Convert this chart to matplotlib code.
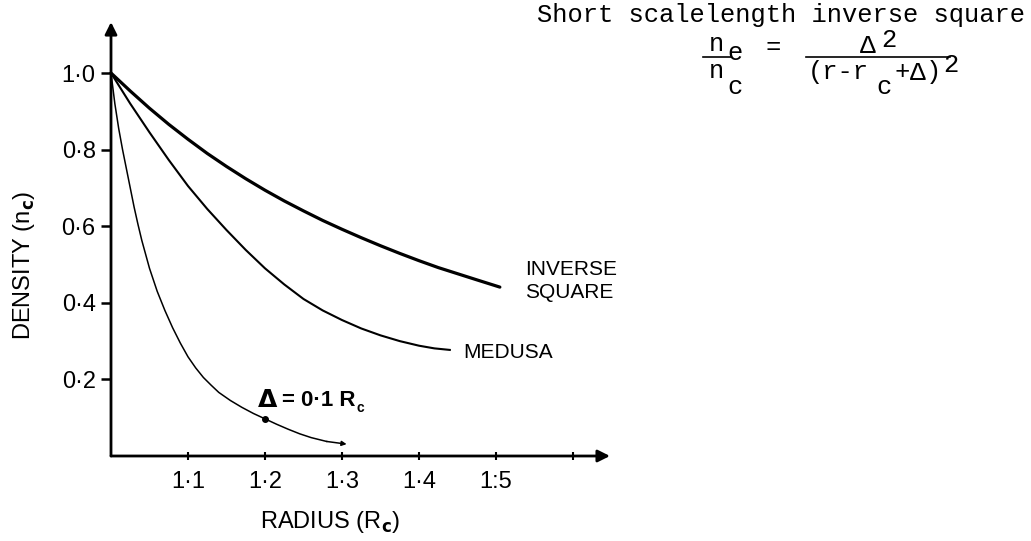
import matplotlib
matplotlib.use("Agg")
import matplotlib.pyplot as plt

# Density profiles near the critical surface (radius in units of R_c, density in n_c)
r_inverse_square = [1.0, 1.025, 1.05, 1.075, 1.1, 1.125, 1.15, 1.175, 1.2, 1.225,
                    1.25, 1.275, 1.3, 1.325, 1.35, 1.375, 1.4, 1.425, 1.45, 1.475, 1.505]
n_inverse_square = [1.0, 0.953, 0.908, 0.866, 0.827, 0.790, 0.756, 0.724, 0.694, 0.666,
                    0.640, 0.615, 0.592, 0.570, 0.549, 0.529, 0.510, 0.492, 0.476, 0.460, 0.441]

r_medusa = [1.0, 1.025, 1.05, 1.075, 1.1, 1.125, 1.15, 1.175, 1.2, 1.225,
            1.25, 1.275, 1.3, 1.325, 1.35, 1.375, 1.4, 1.42, 1.44]
n_medusa = [1.0, 0.92, 0.845, 0.773, 0.705, 0.645, 0.59, 0.538, 0.49, 0.448,
            0.41, 0.38, 0.355, 0.333, 0.315, 0.30, 0.288, 0.281, 0.277]

r_short = [1.0, 1.005, 1.01, 1.015, 1.02, 1.025, 1.03, 1.035, 1.04, 1.05,
           1.06, 1.07, 1.08, 1.09, 1.1, 1.11, 1.12, 1.13, 1.14, 1.155,
           1.17, 1.185, 1.2, 1.215, 1.23, 1.245, 1.26, 1.28, 1.306]
n_short = [1.0, 0.92, 0.855, 0.80, 0.75, 0.70, 0.65, 0.605, 0.563, 0.49,
           0.43, 0.38, 0.335, 0.295, 0.259, 0.23, 0.205, 0.185, 0.166, 0.145,
           0.127, 0.111, 0.097, 0.083, 0.07, 0.058, 0.048, 0.038, 0.031]
marked_point = 22  # dot drawn on the short-scalelength curve at r = 1.2

x_ticks = [1.1, 1.2, 1.3, 1.4, 1.5, 1.6]
x_tick_labels = ["1·1", "1·2", "1·3", "1·4", "1:5", ""]
y_ticks = [0.2, 0.4, 0.6, 0.8, 1.0]
y_tick_labels = ["0·2", "0·4", "0·6", "0·8", "1·0"]

W, H = 1031, 541
fig = plt.figure(figsize=(W / 100, H / 100), dpi=100)
fig.patch.set_facecolor("white")

SANS = ["Liberation Sans", "DejaVu Sans"]
MONO = ["Liberation Mono", "DejaVu Sans Mono"]


def fx(px):
    return px / W


def fy(py):
    return 1 - py / H


# axes box: x 1.0..1.65, y 0..1.14
ax = fig.add_axes([fx(111), 85 / H, 500.5 / W, 436.6 / H])
ax.set_xlim(1.0, 1.65)
ax.set_ylim(0, 1.14)
for s in ax.spines.values():
    s.set_visible(False)
ax.patch.set_alpha(0)

# axes drawn as arrows
ax.annotate("", xy=(1.648, 0), xytext=(1.0, 0),
            arrowprops=dict(arrowstyle="-|>", lw=2.0, color="black",
                            mutation_scale=18, shrinkA=0, shrinkB=0),
            annotation_clip=False)
ax.annotate("", xy=(1.0, 1.133), xytext=(1.0, 0),
            arrowprops=dict(arrowstyle="-|>", lw=2.0, color="black",
                            mutation_scale=18, shrinkA=0, shrinkB=0),
            annotation_clip=False)

ax.set_xticks(x_ticks)
ax.set_xticklabels(x_tick_labels, fontfamily=SANS, fontsize=17)
ax.set_yticks(y_ticks)
ax.set_yticklabels(y_tick_labels, fontfamily=SANS, fontsize=17)
ax.tick_params(axis="x", direction="inout", length=6, width=1.5, pad=8)
ax.tick_params(axis="y", direction="out", length=7, width=1.8, pad=4)

# profiles
ax.plot(r_inverse_square, n_inverse_square, color="black", lw=2.3,
        solid_capstyle="round", solid_joinstyle="round", clip_on=False)
ax.plot(r_medusa, n_medusa, color="black", lw=1.5,
        solid_joinstyle="round", clip_on=False)
ax.plot(r_short[:-1], n_short[:-1], color="black", lw=1.1,
        solid_joinstyle="round", clip_on=False)
ax.annotate("", xy=(r_short[-1], n_short[-1]), xytext=(r_short[-2], n_short[-2]),
            arrowprops=dict(arrowstyle="-|>", lw=1.1, color="black",
                            mutation_scale=7, shrinkA=0, shrinkB=0),
            annotation_clip=False)
ax.plot([r_short[marked_point]], [n_short[marked_point]], "o", color="black", ms=4)

# curve labels
ax.text(1.538, 0.457, "INVERSE\nSQUARE", fontfamily=SANS, fontsize=15,
        ha="left", va="center", linespacing=1.3)
ax.text(1.458, 0.27, "MEDUSA", fontfamily=SANS, fontsize=15,
        ha="left", va="center")
ax.text(1.189, 0.145, r"$\mathbf{\Delta}$", fontsize=18, ha="left", va="center")
ax.text(1.222, 0.145, "= 0·1 R", fontfamily=SANS, fontsize=16,
        fontweight="bold", ha="left", va="center")
ax.text(1.319, 0.126, "c", fontfamily=SANS, fontsize=10,
        fontweight="bold", ha="left", va="center")

# axis titles
fig.text(fx(24), fy(265), r"DENSITY (n$_\mathbf{c}$)", fontfamily=SANS,
         fontsize=17, rotation=90, ha="center", va="center")
fig.text(fx(330), fy(522), r"RADIUS (R$_\mathbf{c}$)", fontfamily=SANS,
         fontsize=17, ha="center", va="center")

# profile formula
fig.text(fx(537), fy(15), "Short scalelength inverse square", fontfamily=MONO,
         fontsize=18.4, ha="left", va="center")
fig.text(fx(716), fy(44), "n", fontfamily=MONO, fontsize=18.4, ha="center", va="center")
fig.text(fx(735), fy(53), "e", fontfamily=MONO, fontsize=18.4, ha="center", va="center")
fig.add_artist(plt.Line2D([fx(703), fx(731)], [fy(57), fy(57)], color="black", lw=1.2))
fig.text(fx(716), fy(71), "n", fontfamily=MONO, fontsize=18.4, ha="center", va="center")
fig.text(fx(735), fy(87), "c", fontfamily=MONO, fontsize=18.4, ha="center", va="center")
fig.text(fx(773), fy(47), "=", fontfamily=MONO, fontsize=18.4, ha="center", va="center")
fig.text(fx(868), fy(46), "Δ", fontfamily=MONO, fontsize=19, ha="center", va="center")
fig.text(fx(889), fy(40), "2", fontfamily=MONO, fontsize=18.4, ha="center", va="center")
fig.add_artist(plt.Line2D([fx(806), fx(950)], [fy(57), fy(57)], color="black", lw=1.2))
fig.text(fx(808), fy(72), "(r-r", fontfamily=MONO, fontsize=18.4, ha="left", va="center")
fig.text(fx(884), fy(87), "c", fontfamily=MONO, fontsize=18.4, ha="center", va="center")
fig.text(fx(894), fy(72), "+", fontfamily=MONO, fontsize=18.4, ha="left", va="center")
fig.text(fx(910), fy(73), "Δ", fontfamily=MONO, fontsize=19, ha="left", va="center")
fig.text(fx(926), fy(72), ")", fontfamily=MONO, fontsize=18.4, ha="left", va="center")
fig.text(fx(951), fy(65), "2", fontfamily=MONO, fontsize=18.4, ha="center", va="center")

fig.savefig("out.png", dpi=100, facecolor="white")
